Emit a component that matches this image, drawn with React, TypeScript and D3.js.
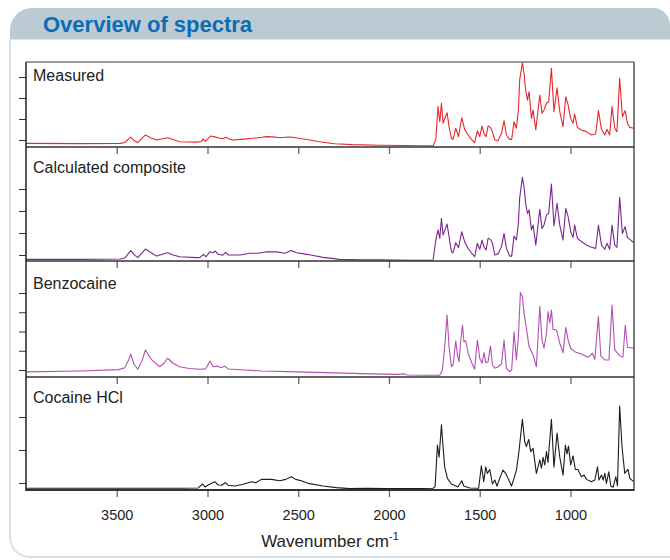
import React, { useRef, useEffect } from 'react';
import * as d3 from 'd3';

// [wavenumber cm-1, absorbance (a.u.)]
type Pt = [number, number];

const measured: Pt[] = [
	[4000, -0.16], [3700, -0.17], [3480, -0.16], [3456, -0.12], [3423, 0.14], [3400, -0.05], [3384, -0.13],
	[3342, 0.24], [3310, 0.1], [3281, 0.0], [3220, 0.11], [3190, 0.02], [3153, -0.08], [3060, -0.1],
	[3033, -0.07], [3026, 0.05], [3012, -0.06], [2983, 0.19], [2960, 0.15], [2932, 0.08], [2915, 0.06],
	[2899, 0.13], [2880, 0.05], [2861, 0.0], [2800, 0.04], [2750, 0.08], [2700, 0.13], [2675, 0.16],
	[2640, 0.15], [2602, 0.11], [2557, 0.14], [2530, 0.13], [2490, 0.07], [2436, 0.0], [2390, -0.07],
	[2344, -0.13], [2299, -0.18], [2200, -0.22], [2051, -0.25], [1900, -0.26], [1831, -0.27], [1757, -0.27],
	[1742, 0.0], [1730, 1.59], [1720, 0.87], [1711, 1.75], [1702, 0.8], [1689, 1.11], [1680, 1.3],
	[1669, 0.63], [1656, 0.08], [1647, 0.03], [1632, 0.56], [1617, 0.16], [1599, 1.06], [1583, 0.51],
	[1564, 0.24], [1546, 0.03], [1528, -0.13], [1513, 0.44], [1500, 0.16], [1487, 0.67], [1476, 0.29],
	[1465, 0.16], [1454, 0.67], [1441, 0.6], [1430, 0.4], [1417, 0.0], [1399, -0.03], [1380, 0.32],
	[1366, 0.92], [1353, 0.24], [1335, 0.03], [1324, 0.03], [1311, 0.87], [1298, 0.56], [1287, 1.43],
	[1280, 2.86], [1265, 3.68], [1256, 3.18], [1247, 2.38], [1237, 1.9], [1228, 2.3], [1215, 1.03],
	[1206, 1.43], [1191, 0.48], [1169, 2.14], [1157, 1.27], [1146, 1.43], [1132, 1.75], [1120, 1.82],
	[1105, 3.41], [1091, 1.35], [1074, 2.49], [1059, 1.35], [1041, 0.63], [1026, 2.06], [1013, 1.67],
	[999, 1.03], [986, 0.8], [977, 1.24], [962, 0.6], [940, 0.48], [912, 0.4], [885, 0.24], [861, 0.29],
	[846, 1.4], [829, 0.51], [811, 0.24], [799, 0.51], [784, 0.24], [771, 1.59], [756, 0.56], [744, 0.4],
	[729, 2.94], [714, 1.11], [699, 1.4], [686, 0.8], [673, 0.6], [652, 0.56],
];

const composite: Pt[] = [
	[4000, -0.2], [3700, -0.2], [3480, -0.18], [3456, -0.14], [3423, 0.2], [3400, -0.02], [3384, -0.12],
	[3342, 0.27], [3310, 0.1], [3281, -0.05], [3220, 0.1], [3190, 0.0], [3153, -0.08], [3060, -0.12],
	[3041, -0.11], [3023, 0.03], [3008, -0.08], [2986, 0.15], [2971, 0.1], [2957, 0.18], [2941, 0.03],
	[2916, -0.01], [2900, 0.12], [2886, 0.0], [2821, 0.0], [2766, 0.08], [2720, 0.08], [2674, 0.15],
	[2619, 0.14], [2573, 0.08], [2540, 0.2], [2508, 0.1], [2453, 0.03], [2363, -0.11], [2271, -0.2],
	[2161, -0.22], [2051, -0.22], [1868, -0.24], [1757, -0.24], [1742, 0.68], [1730, 1.14], [1720, 0.76],
	[1711, 1.67], [1702, 0.91], [1689, 1.2], [1680, 1.41], [1669, 0.83], [1656, 0.15], [1647, 0.1],
	[1632, 0.56], [1617, 0.33], [1599, 1.06], [1583, 0.6], [1564, 0.3], [1546, 0.1], [1528, -0.08],
	[1513, 0.53], [1500, 0.26], [1487, 0.68], [1476, 0.35], [1465, 0.23], [1454, 0.76], [1441, 0.71],
	[1430, 0.53], [1417, 0.0], [1399, 0.05], [1380, 0.38], [1366, 0.98], [1353, 0.3], [1335, -0.05],
	[1324, -0.05], [1311, 0.86], [1298, 0.68], [1287, 1.44], [1280, 2.58], [1265, 3.53], [1256, 3.11],
	[1247, 2.35], [1237, 1.89], [1228, 2.05], [1215, 1.14], [1206, 1.36], [1191, 0.45], [1169, 2.08],
	[1157, 1.21], [1146, 1.36], [1132, 1.82], [1120, 1.89], [1105, 3.23], [1091, 1.32], [1074, 2.35],
	[1059, 1.36], [1041, 0.68], [1026, 2.12], [1013, 1.74], [999, 1.06], [986, 0.8], [977, 1.36],
	[962, 0.76], [940, 0.61], [912, 0.45], [885, 0.35], [861, 0.3], [846, 1.36], [829, 0.45], [811, 0.26],
	[799, 0.53], [784, 0.26], [771, 1.36], [756, 0.45], [744, 0.35], [729, 2.62], [714, 0.98], [699, 1.29],
	[686, 0.8], [673, 0.71], [652, 0.56],
];

const benzocaine: Pt[] = [
	[4000, -0.1], [3700, -0.05], [3490, 0.02], [3456, 0.12], [3435, 0.5], [3423, 0.83], [3405, 0.3],
	[3384, 0.04], [3360, 0.5], [3342, 1.04], [3310, 0.55], [3263, 0.17], [3240, 0.35], [3220, 0.61],
	[3190, 0.35], [3153, 0.17], [3100, 0.08], [3041, 0.04], [3010, 0.06], [2986, 0.47], [2968, 0.17],
	[2945, 0.2], [2925, 0.12], [2905, 0.2], [2885, 0.05], [2800, 0.0], [2700, -0.05], [2500, -0.1],
	[2300, -0.15], [2100, -0.2], [1950, -0.23], [1919, -0.2], [1900, -0.26], [1800, -0.27], [1720, -0.27],
	[1706, 0.0], [1693, 1.21], [1680, 2.86], [1669, 1.21], [1656, 0.17], [1647, 0.26], [1632, 1.52],
	[1623, 0.78], [1614, 0.43], [1605, 1.47], [1595, 2.34], [1587, 1.47], [1577, 1.52], [1564, 0.87],
	[1546, 0.43], [1528, 0.04], [1513, 1.56], [1500, 0.61], [1487, 0.35], [1476, 0.9], [1467, 0.38],
	[1454, 0.43], [1441, 1.25], [1430, 0.26], [1417, 0.09], [1399, 0.17], [1380, 0.31], [1366, 1.56],
	[1353, 0.09], [1335, -0.09], [1324, 0.0], [1311, 1.99], [1298, 0.52], [1287, 1.73], [1276, 4.02],
	[1265, 3.81], [1256, 2.95], [1243, 2.17], [1228, 1.21], [1206, 0.78], [1188, 0.17], [1169, 3.29],
	[1157, 1.56], [1146, 1.13], [1132, 1.91], [1124, 3.03], [1114, 2.43], [1105, 3.12], [1096, 2.11],
	[1077, 2.08], [1059, 1.39], [1041, 0.9], [1026, 2.22], [1013, 1.56], [999, 1.13], [977, 0.95],
	[940, 0.83], [903, 0.66], [879, 0.87], [866, 0.56], [846, 2.77], [833, 0.73], [811, 0.52], [788, 0.52],
	[771, 3.38], [756, 1.04], [729, 0.73], [711, 0.68], [698, 2.34], [686, 1.18], [652, 1.13],
];

const cocaineHCl: Pt[] = [
	[4000, -0.16], [3500, -0.16], [3153, -0.16], [3051, -0.15], [3027, -0.03], [3014, -0.12], [2996, -0.06],
	[2960, 0.04], [2941, -0.06], [2923, -0.07], [2901, 0.01], [2886, -0.07], [2850, -0.09], [2804, -0.04],
	[2758, 0.04], [2734, 0.01], [2703, 0.11], [2648, 0.11], [2602, 0.07], [2569, 0.11], [2538, 0.19],
	[2514, 0.11], [2483, 0.07], [2446, -0.01], [2363, -0.09], [2290, -0.14], [2216, -0.17], [2125, -0.16],
	[2014, -0.17], [1868, -0.17], [1757, -0.16], [1746, -0.11], [1733, 1.15], [1724, 0.78], [1711, 1.76],
	[1702, 1.1], [1693, 0.48], [1678, 0.14], [1656, -0.03], [1620, -0.12], [1599, 0.07], [1588, -0.09],
	[1555, -0.15], [1506, -0.16], [1491, 0.52], [1478, 0.04], [1467, 0.49], [1458, 0.29], [1445, 0.41],
	[1430, -0.03], [1417, 0.09], [1405, -0.09], [1390, 0.14], [1372, 0.39], [1357, 0.29], [1344, 0.14],
	[1325, -0.09], [1311, 0.14], [1298, 0.39], [1285, 0.9], [1265, 1.93], [1252, 1.25], [1243, 1.1],
	[1230, 1.32], [1219, 0.95], [1206, 1.05], [1188, 0.29], [1169, 0.7], [1160, 0.45], [1151, 0.78],
	[1142, 0.55], [1132, 0.95], [1124, 0.62], [1105, 1.93], [1091, 0.48], [1074, 1.51], [1059, 0.78],
	[1041, 0.24], [1028, 1.15], [1019, 0.88], [1011, 1.12], [999, 0.55], [986, 0.82], [973, 0.41],
	[959, 0.41], [940, 0.19], [925, 0.24], [912, 0.11], [885, 0.04], [866, 0.09], [851, 0.49], [843, 0.09],
	[829, 0.24], [820, 0.09], [811, 0.29], [802, -0.01], [789, 0.34], [778, -0.09], [765, -0.13],
	[750, 0.19], [741, -0.09], [729, 2.33], [716, 1.1], [701, 0.29], [683, 0.41], [673, 0.14], [652, 0.04],
];

const spectra = [measured, composite, benzocaine, cocaineHCl];
const panelNames = ['Measured', 'Calculated composite', 'Benzocaine', 'Cocaine HCl'];
const panelColors = ['#e8272c', '#7b2690', '#b24fb5', '#1c1c1c'];
const yTickValues = [[0, 1, 2, 3], [0, 1, 2, 3], [0, 1, 2, 3, 4], [0, 1, 2]];
const yDomains: [number, number][] = [[-0.333, 3.714], [-0.273, 4.909], [-0.364, 5.662], [-0.212, 3.212]];
const xTickValues = [3500, 3000, 2500, 2000, 1500, 1000];
const xDomain: [number, number] = [4000, 650];

const FONT = '"Liberation Sans", Arial, Helvetica, sans-serif';

const App: React.FC = () => {
	const svgRef = useRef<SVGSVGElement | null>(null);

	useEffect(() => {
		const svg = d3.select(svgRef.current);
		svg.selectAll('*').remove();

		const plotLeft = 26;
		const plotRight = 634;
		const panelEdges = [62, 147, 261, 377, 490]; // top of each panel, then bottom of plot
		const labelOffsets = [19, 26, 28, 26];

		// card
		const hdrTop = 8;
		const hdrBottom = 39.5;
		const cardLeft = 10;
		const cardRight = 670;
		const cardBottom = 557;
		svg.append('path')
			.attr('d', `M${cardLeft},${hdrBottom} L${cardLeft},${hdrTop + 22} A22,22 0 0 1 ${cardLeft + 22},${hdrTop} L${cardRight - 17},${hdrTop} A17,17 0 0 1 ${cardRight},${hdrTop + 17} L${cardRight},${hdrBottom} Z`)
			.attr('fill', '#bccbd3');
		svg.append('path')
			.attr('d', `M${cardLeft},${hdrBottom} L${cardLeft},${cardBottom - 20} A20,20 0 0 0 ${cardLeft + 20},${cardBottom} L${cardRight + 5},${cardBottom}`)
			.attr('fill', 'none')
			.attr('stroke', '#d3e0e8')
			.attr('stroke-width', 2);
		svg.append('text')
			.attr('x', 43)
			.attr('y', 32)
			.attr('font-family', FONT)
			.attr('font-weight', 'bold')
			.attr('font-size', 22)
			.attr('fill', '#0b6cb4')
			.text('Overview of spectra');

		const x = d3.scaleLinear().domain(xDomain).range([plotLeft, plotRight]);

		spectra.forEach((data, i) => {
			const top = panelEdges[i];
			const bottom = panelEdges[i + 1];
			const y = d3.scaleLinear().domain(yDomains[i]).range([bottom, top]);

			const line = d3
				.line<Pt>()
				.x((d) => x(d[0]))
				.y((d) => y(d[1]));

			svg.append('path')
				.datum(data)
				.attr('d', line)
				.attr('fill', 'none')
				.attr('stroke', panelColors[i])
				.attr('stroke-width', 1.1)
				.attr('stroke-linejoin', 'round');

			// left ticks
			const ya = svg.append('g')
				.attr('transform', `translate(${plotLeft},0)`)
				.call(d3.axisLeft(y).tickValues(yTickValues[i]).tickSize(7).tickFormat(() => ''));
			ya.select('.domain').remove();
			ya.selectAll('line').attr('stroke', '#333').attr('stroke-width', 1);

			// bottom ticks on each panel edge
			const last = i === spectra.length - 1;
			const xa = svg.append('g')
				.attr('transform', `translate(0,${bottom})`)
				.call(
					d3
						.axisBottom(x)
						.tickValues(xTickValues)
						.tickSize(7)
						.tickPadding(13)
						.tickFormat((d) => (last ? d3.format('d')(d as number) : ''))
				);
			xa.select('.domain').remove();
			xa.selectAll('line').attr('stroke', '#6a6a6a').attr('stroke-width', 1.3);
			xa.selectAll('text')
				.attr('font-family', FONT)
				.attr('font-size', 14.5)
				.attr('fill', '#222');

			// separator / bottom edge
			svg.append('line')
				.attr('x1', plotLeft)
				.attr('x2', plotRight)
				.attr('y1', bottom)
				.attr('y2', bottom)
				.attr('stroke', '#333')
				.attr('stroke-width', last ? 2.2 : 1.5);

			svg.append('text')
				.attr('x', 33)
				.attr('y', top + labelOffsets[i])
				.attr('font-family', FONT)
				.attr('font-size', 16)
				.attr('fill', '#222')
				.text(panelNames[i]);
		});

		// frame
		svg.append('line')
			.attr('x1', plotLeft).attr('x2', plotRight)
			.attr('y1', panelEdges[0]).attr('y2', panelEdges[0])
			.attr('stroke', '#333').attr('stroke-width', 1.2);
		svg.append('line')
			.attr('x1', plotLeft).attr('x2', plotLeft)
			.attr('y1', panelEdges[0]).attr('y2', panelEdges[4] + 1)
			.attr('stroke', '#222').attr('stroke-width', 1.5);
		svg.append('line')
			.attr('x1', plotRight).attr('x2', plotRight)
			.attr('y1', panelEdges[0]).attr('y2', panelEdges[4] + 1)
			.attr('stroke', '#222').attr('stroke-width', 1.2);

		const title = svg.append('text')
			.attr('x', (plotLeft + plotRight) / 2)
			.attr('y', 547)
			.attr('text-anchor', 'middle')
			.attr('font-family', FONT)
			.attr('font-size', 17)
			.attr('fill', '#222');
		title.append('tspan').text('Wavenumber cm');
		title.append('tspan').attr('dy', -7).attr('font-size', 11).text('-1');
	}, []);

	return (
		<svg
			ref={svgRef}
			width={670}
			height={560}
			style={{ position: 'absolute', left: 0, top: 0, background: '#fff' }}
		/>
	);
};

export default App;
